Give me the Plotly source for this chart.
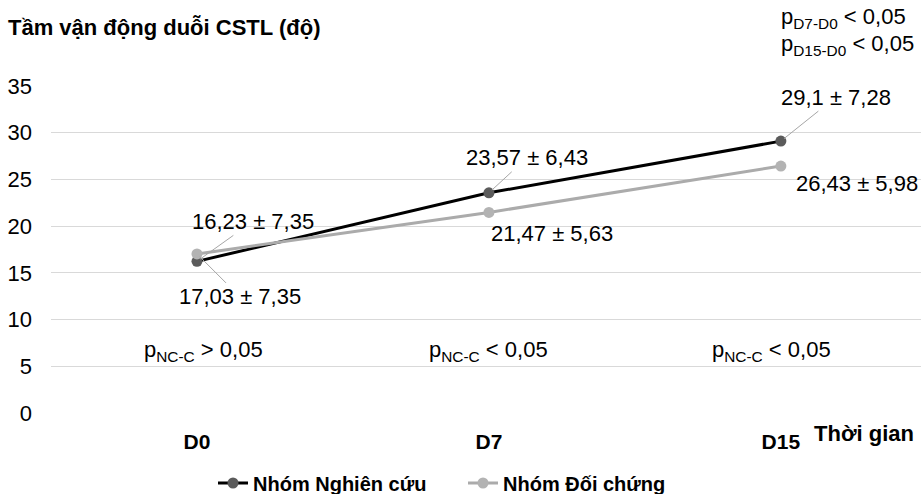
import plotly.graph_objects as go

# Measurement days and mean extension range (degrees) per group
days = ["D0", "D7", "D15"]
nhom_nc = [16.23, 23.57, 29.1]      # Nhóm Nghiên cứu
nhom_dc = [17.03, 21.47, 26.43]     # Nhóm Đối chứng
sd_nc = ["7,35", "6,43", "7,28"]
sd_dc = ["7,35", "5,63", "5,98"]
p_between = ["&gt; 0,05", "&lt; 0,05", "&lt; 0,05"]
y_ticks = [0, 5, 10, 15, 20, 25, 30, 35]

FONT = "Liberation Sans, Arial, sans-serif"
DARK_LINE, DARK_MARK = "#000000", "#5B5B5B"
LIGHT_LINE, LIGHT_MARK = "#ABABAB", "#B3B3B3"
LEADER = "#A6A6A6"


def vn(v):
    return f"{v:g}".replace(".", ",")


fig = go.Figure()
fig.add_trace(go.Scatter(
    x=days, y=nhom_nc, mode="lines+markers", name="Nhóm Nghiên cứu",
    line=dict(color=DARK_LINE, width=3),
    marker=dict(color=DARK_MARK, size=11),
))
fig.add_trace(go.Scatter(
    x=days, y=nhom_dc, mode="lines+markers", name="Nhóm Đối chứng",
    line=dict(color=LIGHT_LINE, width=3),
    marker=dict(color=LIGHT_MARK, size=11),
))

annotations = []
lbl_font = dict(family=FONT, size=22, color="#000000")

# value labels with leader lines (dx, dy in pixels from the point)
nc_offsets = [(56, -40), (38, -35), (55, -44)]
for i, (dx, dy) in enumerate(nc_offsets):
    annotations.append(dict(
        x=days[i], y=nhom_nc[i], xref="x", yref="y",
        text=f"{vn(nhom_nc[i])} ± {sd_nc[i]}", font=lbl_font,
        showarrow=True, arrowhead=0, arrowwidth=1, arrowcolor=LEADER,
        ax=dx, ay=dy, standoff=4,
    ))

# control group labels: first with leader, others plain
annotations.append(dict(
    x=days[0], y=nhom_dc[0], xref="x", yref="y",
    text=f"{vn(nhom_dc[0])} ± {sd_dc[0]}", font=lbl_font,
    showarrow=True, arrowhead=0, arrowwidth=1, arrowcolor=LEADER,
    ax=43, ay=43, standoff=4,
))
for i, (xs, ys) in zip([1, 2], [(63, -21), (76, -17)]):
    annotations.append(dict(
        x=days[i], y=nhom_dc[i], xref="x", yref="y",
        text=f"{vn(nhom_dc[i])} ± {sd_dc[i]}", font=lbl_font,
        showarrow=False, xshift=xs, yshift=ys,
    ))

# between-group p values
for i, xs in enumerate([7, 0, -9]):
    annotations.append(dict(
        x=days[i], y=6.64, xref="x", yref="y",
        text=f"p<sub>NC-C</sub> {p_between[i]}", font=lbl_font,
        showarrow=False, xshift=xs,
    ))

# within-group p values, top right
annotations.append(dict(
    x=(779 - 51) / 870, y=(413 - 18) / 327, xref="paper", yref="paper",
    xanchor="left", yanchor="middle",
    text="p<sub>D7-D0</sub> &lt; 0,05", font=lbl_font, showarrow=False,
))
annotations.append(dict(
    x=(779 - 51) / 870, y=(413 - 45) / 327, xref="paper", yref="paper",
    xanchor="left", yanchor="middle",
    text="p<sub>D15-D0</sub> &lt; 0,05", font=lbl_font, showarrow=False,
))

# x axis title at the right end
annotations.append(dict(
    x=(916 - 51) / 870, y=(413 - 433) / 327, xref="paper", yref="paper",
    xanchor="right", yanchor="middle",
    text="<b>Thời gian</b>", font=dict(family=FONT, size=22, color="#000000"),
    showarrow=False,
))

fig.update_layout(
    width=921, height=494,
    margin=dict(l=51, r=0, t=86, b=81, autoexpand=False),
    paper_bgcolor="white", plot_bgcolor="white",
    font=dict(family=FONT, size=22, color="#000000"),
    title=dict(
        text="<b>Tầm vận động duỗi CSTL (độ)</b>",
        x=8 / 921, xref="container", xanchor="left",
        y=1 - 27 / 494, yref="container", yanchor="middle",
        font=dict(family=FONT, size=22, color="#000000"),
    ),
    xaxis=dict(
        type="category", range=[-0.5, 2.48],
        tickvals=days, ticktext=[f"<b>{d}</b>" for d in days],
        tickfont=dict(family=FONT, size=21, color="#000000"),
        showgrid=False, zeroline=False, showline=False, ticks="",
        ticklabelstandoff=14,
    ),
    yaxis=dict(
        range=[0, 35], tickvals=y_ticks,
        tickfont=dict(family=FONT, size=22, color="#000000"),
        showgrid=True, gridcolor="#D9D9D9", gridwidth=1,
        zeroline=False, showline=False, ticks="",
        ticklabelstandoff=18,
    ),
    legend=dict(
        orientation="h", x=(213 - 51) / 870, xanchor="left",
        y=(413 - 483) / 327, yanchor="middle",
        font=dict(family=FONT, size=20, color="#000000", weight="bold"),
        itemwidth=30, tracegroupgap=0,
        entrywidth=205, entrywidthmode="pixels",
    ),
    annotations=annotations,
    showlegend=True,
)

fig.write_html("out.html")
